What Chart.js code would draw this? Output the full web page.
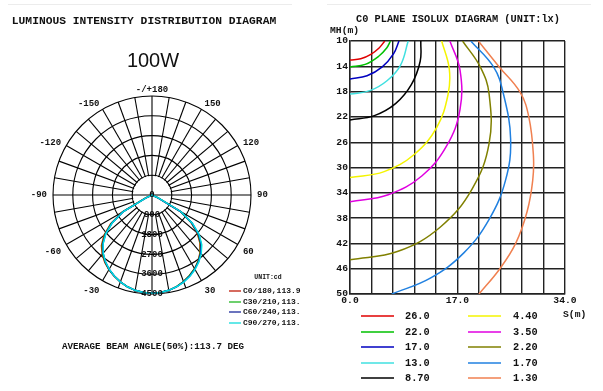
<!DOCTYPE html>
<html>
<head>
<meta charset="utf-8">
<title>100W photometric diagrams</title>
<script src="https://cdn.jsdelivr.net/npm/chart.js@4.4.1/dist/chart.umd.min.js"></script>
<style>
    html, body { margin: 0; padding: 0; background: #fff; }
    #page { position: relative; width: 603px; height: 391px; overflow: hidden; }
    #leftBox { position: absolute; left: 0; top: 0; width: 300px; height: 391px; overflow: hidden; }
    #rightBox { position: absolute; left: 320px; top: 0; width: 283px; height: 391px; }
    .t { position: absolute; white-space: nowrap; font-family: "Liberation Mono", monospace; font-weight: bold; color: #111; line-height: 1; }
    .ln { position: absolute; height: 2px; opacity: 0.75; }
    .rule { position: absolute; height: 1px; background: #ececec; }
</style>
</head>
<body>
<div id="page">
    <div class="rule" style="left:8px; top:4px; width:284px;"></div>
    <div class="rule" style="left:327px; top:4px; width:264px;"></div>
    <div id="leftBox"><canvas id="polarCanvas" width="300" height="391"></canvas></div>
    <div id="rightBox"><canvas id="isoCanvas" width="283" height="391"></canvas></div>
</div>
<script>
// ---- luminous intensity (cd) per C plane, gamma angles in degrees (negative = left half)
var gammaAngles = [-90, -85, -80, -75, -70, -65, -60, -55, -50, -45, -40, -35, -30, -25, -20, -15, -10, -5, 0,
                   5, 10, 15, 20, 25, 30, 35, 40, 45, 50, 55, 60, 65, 70, 75, 80, 85, 90];
var c0Values  = [0, 0, 0, 0, 0, 320, 1560, 2300, 2850, 3250, 3520, 3740, 3920, 4070, 4200, 4320, 4400, 4450, 4470,
                 4450, 4400, 4310, 4190, 4040, 3870, 3660, 3400, 3080, 2680, 2160, 1460, 280, 0, 0, 0, 0, 0];
var c30Values = [0, 0, 0, 0, 0, 310, 1540, 2260, 2800, 3200, 3490, 3720, 3910, 4060, 4200, 4320, 4400, 4450, 4470,
                 4450, 4400, 4310, 4190, 4040, 3870, 3670, 3420, 3120, 2720, 2190, 1480, 290, 0, 0, 0, 0, 0];
var c60Values = [0, 0, 0, 0, 0, 300, 1510, 2220, 2760, 3160, 3460, 3700, 3900, 4060, 4200, 4320, 4400, 4450, 4470,
                 4450, 4400, 4320, 4200, 4060, 3890, 3690, 3450, 3160, 2760, 2220, 1500, 300, 0, 0, 0, 0, 0];
var c90Values = [0, 0, 0, 0, 0, 300, 1500, 2200, 2740, 3140, 3450, 3690, 3890, 4060, 4200, 4320, 4400, 4450, 4470,
                 4450, 4400, 4320, 4210, 4080, 3910, 3710, 3480, 3200, 2800, 2250, 1520, 310, 0, 0, 0, 0, 0];
var planeNames = ['C0/180,113.9', 'C30/210,113.5', 'C60/240,113.5', 'C90/270,113.8'];
var planeColors = ['#e02400', '#00b400', '#0000c8', '#00e0e0'];
var planeLegendColors = ['#c83a2a', '#3cc03c', '#3a46a8', '#30e0e0'];
var ringTicks = [900, 1800, 2700, 3600, 4500];
var angleTicks = [180, 150, 120, 90, 60, 30, -30, -60, -90, -120, -150];

// ---- isolux curves, C0 plane: [S (m), MH (m)]
var isoLevels = ['26.0', '22.0', '17.0', '13.0', '8.70', '4.40', '3.50', '2.20', '1.70', '1.30'];
var isoColors = ['#e00000', '#00c000', '#0000c0', '#40e0e0', '#000000', '#f4f400', '#e000e0', '#808000', '#2080e0', '#f08050'];
var lux260 = [[0, 13.0], [1.7, 12.8], [3.3, 12.1], [4.6, 11.1], [5.5, 10.0]];
var lux220 = [[0, 14.1], [2.4, 13.7], [4.5, 12.45], [5.8, 11.1], [6.4, 10.0]];
var lux170 = [[0, 16.0], [2.7, 15.5], [5.1, 14.1], [6.9, 12.0], [7.75, 10.0]];
var lux130 = [[0, 18.4], [3.15, 17.85], [5.9, 16.25], [8.0, 13.8], [9.2, 10.0]];
var lux087 = [[0, 22.5], [3.85, 21.8], [7.2, 19.9], [9.7, 16.9], [11.1, 13.2], [11.2, 10.0]];
var lux044 = [[0, 31.6], [5.4, 30.65], [10.2, 27.9], [13.7, 23.7], [15.5, 18.5], [15.7, 14.4], [14.5, 10.0]];
var lux035 = [[0, 35.4], [6.05, 34.3], [11.4, 31.3], [15.3, 26.55], [17.4, 20.8], [17.4, 14.6], [15.8, 10.0]];
var lux022 = [[0, 44.6], [7.6, 43.25], [14.3, 39.4], [19.3, 33.4], [22.0, 26.2], [22.0, 18.4], [20.6, 14.1], [17.8, 10.0]];
var lux017 = [[6.6, 50], [12.7, 47.5], [18.0, 43.5], [22.0, 38.2], [24.6, 32.0], [25.4, 25.5], [24.2, 18.1], [22.7, 14.1], [19.1, 10.0]];
var lux013 = [[20.4, 50], [23.7, 46], [26.2, 42], [28.0, 37], [28.9, 32], [29.0, 28], [28.3, 22.1], [26.9, 18.1], [23.6, 14.1], [20.3, 10.0]];
var isoCurves = [lux260, lux220, lux170, lux130, lux087, lux044, lux035, lux022, lux017, lux013];
var sTicks = [0, 3.4, 6.8, 10.2, 13.6, 17, 20.4, 23.8, 27.2, 30.6, 34];
var sLabelled = [0, 17, 34];
var mhTicks = [10, 14, 18, 22, 26, 30, 34, 38, 42, 46, 50];

var MONO = '"Liberation Mono", "DejaVu Sans Mono", monospace';
var page = document.getElementById('page');

function addText(txt, x, y, size, align, opts) {
    var d = document.createElement('div');
    d.className = 't';
    d.textContent = txt;
    d.style.left = x + 'px';
    d.style.top = y + 'px';
    d.style.fontSize = size + 'px';
    var tx = align === 'center' ? '-50%' : (align === 'right' ? '-100%' : '0');
    d.style.transform = 'translate(' + tx + ', -50%)';
    if (opts) {
        for (var k in opts) {
            if (k !== 'parent') d.style[k] = opts[k];
        }
    }
    (opts && opts.parent ? opts.parent : page).appendChild(d);
    return d;
}

function addLine(x1, x2, y, color, parent) {
    var l = document.createElement('div');
    l.className = 'ln';
    l.style.left = x1 + 'px';
    l.style.width = (x2 - x1) + 'px';
    l.style.top = (y - 1) + 'px';
    l.style.background = color;
    (parent || page).appendChild(l);
}

// ---------------- left: polar intensity diagram ----------------
// radar index i sits at gamma = -5*i (index 0 at the bottom, clockwise)
var polarLabels = [];
for (var i = 0; i < 72; i++) {
    var g = -5 * i;
    if (g <= -180) g += 360;
    polarLabels.push(g);
}

function planeData(values) {
    return polarLabels.map(function(g) {
        var k = gammaAngles.indexOf(g);
        return k >= 0 ? values[k] : 0;
    });
}

var planeSeries = [c0Values, c30Values, c60Values, c90Values];

var polarDecor = {
    id: 'polarDecor',
    beforeDatasetsDraw: function(chart) {
        var r = chart.scales.r;
        var ctx = chart.ctx;
        var inner = r.getDistanceFromCenterForValue(ringTicks[0]);
        ctx.save();
        // spokes start at the first ring; only the cross runs through the middle
        ctx.fillStyle = '#fff';
        ctx.beginPath();
        ctx.arc(r.xCenter, r.yCenter, inner - 0.7, 0, Math.PI * 2);
        ctx.fill();
        ctx.strokeStyle = '#000';
        ctx.lineWidth = 1.1;
        ctx.beginPath();
        ctx.moveTo(r.xCenter - inner, r.yCenter);
        ctx.lineTo(r.xCenter + inner, r.yCenter);
        ctx.moveTo(r.xCenter, r.yCenter - inner);
        ctx.lineTo(r.xCenter, r.yCenter + inner);
        ctx.stroke();
        ctx.restore();
    },
    afterDraw: function(chart) {
        var r = chart.scales.r;
        var ctx = chart.ctx;
        ctx.save();
        ctx.fillStyle = '#111';
        ctx.font = 'bold 9px ' + MONO;
        ctx.textAlign = 'center';
        ctx.textBaseline = 'middle';
        ctx.fillText('0', r.xCenter, r.yCenter);
        ringTicks.forEach(function(v) {
            ctx.fillText(String(v), r.xCenter, r.yCenter + r.getDistanceFromCenterForValue(v));
        });
        angleTicks.forEach(function(g) {
            var idx = ((-g / 5) % 72 + 72) % 72;
            var p = r.getPointPosition(idx, r.drawingArea + 6);
            var dx = p.x - r.xCenter;
            ctx.textAlign = Math.abs(dx) < 2 ? 'center' : (dx < 0 ? 'right' : 'left');
            ctx.textBaseline = Math.abs(g) < 90 ? 'top' : 'middle';
            ctx.fillText(g === 180 ? '-/+180' : String(g), p.x, p.y);
        });
        ctx.restore();
    }
};

new Chart(document.getElementById('polarCanvas'), {
    type: 'radar',
    data: {
        labels: polarLabels,
        datasets: planeSeries.map(function(vals, k) {
            return {
                label: planeNames[k],
                data: planeData(vals),
                borderColor: planeColors[k],
                borderWidth: 1.5,
                backgroundColor: 'rgba(0,0,0,0)',
                fill: false,
                pointRadius: 0,
                tension: 0,
                order: planeSeries.length - k   // C90 ends up on top
            };
        })
    },
    options: {
        responsive: false,
        animation: false,
        layout: { padding: { left: 53, right: 49, top: 96, bottom: 97 } },
        plugins: { legend: { display: false }, tooltip: { enabled: false } },
        scales: {
            r: {
                min: 0,
                max: 4500,
                startAngle: 180,
                ticks: { display: false, stepSize: 900 },
                grid: { circular: true, color: '#000', lineWidth: 1.1 },
                angleLines: {
                    color: '#000',
                    lineWidth: function(c) { return c.index % 2 === 0 ? 1.1 : 0; }
                },
                pointLabels: { display: false }
            }
        }
    },
    plugins: [polarDecor]
});

// ---------------- right: isolux diagram ----------------
new Chart(document.getElementById('isoCanvas'), {
    type: 'scatter',
    data: {
        datasets: isoCurves.map(function(pts, k) {
            return {
                label: isoLevels[k],
                data: pts.map(function(p) { return { x: p[0], y: p[1] }; }),
                showLine: true,
                borderColor: isoColors[k],
                borderWidth: 1.5,
                pointRadius: 0,
                tension: 0.4,
                fill: false
            };
        })
    },
    options: {
        responsive: false,
        animation: false,
        layout: { padding: { left: 0, top: 41, right: 38, bottom: 0 } },
        plugins: { legend: { display: false }, tooltip: { enabled: false } },
        scales: {
            x: {
                type: 'linear',
                min: 0,
                max: 34,
                afterBuildTicks: function(scale) {
                    scale.ticks = sTicks.map(function(v) { return { value: v }; });
                },
                afterFit: function(scale) { scale.height = 97; },
                grid: { color: '#222', lineWidth: 1.4, drawTicks: false },
                border: { color: '#222', width: 1.4 },
                ticks: {
                    autoSkip: false,
                    maxRotation: 0,
                    padding: 1,
                    color: '#111',
                    font: { family: MONO, size: 9.7, weight: 'bold' },
                    callback: function(v) { return sLabelled.indexOf(v) >= 0 ? v.toFixed(1) : ''; }
                }
            },
            y: {
                type: 'linear',
                min: 10,
                max: 50,
                reverse: true,
                afterBuildTicks: function(scale) {
                    scale.ticks = mhTicks.map(function(v) { return { value: v }; });
                },
                afterFit: function(scale) { scale.width = 30; },
                grid: { color: '#222', lineWidth: 1.4, drawTicks: false },
                border: { color: '#222', width: 1.4 },
                ticks: {
                    autoSkip: false,
                    padding: 2,
                    color: '#111',
                    font: { family: MONO, size: 9.7, weight: 'bold' }
                }
            }
        }
    }
});

// ---------------- texts and legends ----------------
var leftBox = document.getElementById('leftBox');
addText('LUMINOUS INTENSITY DISTRIBUTION DIAGRAM', 144, 22, 11.3, 'center');
addText('100W', 153, 60, 20, 'center', { fontFamily: '"Liberation Sans", Arial, sans-serif', fontWeight: 'normal' });
addText('UNIT:cd', 268, 278, 6.5, 'center', { parent: leftBox });
var leftRows = [291, 301.5, 312, 322.5];
planeNames.forEach(function(name, k) {
    addLine(229, 241, leftRows[k], planeLegendColors[k], leftBox);
    addText(name, 243, leftRows[k], 8, 'left', { parent: leftBox });
});
addText('AVERAGE BEAM ANGLE(50%):113.7 DEG', 153, 347, 9.2, 'center');

addText('C0 PLANE ISOLUX DIAGRAM (UNIT:lx)', 458, 19, 10.3, 'center');
addText('MH(m)', 330, 31, 9.7, 'left');
addText('S(m)', 563, 315, 9.7, 'left');
var isoRows = [316, 331.5, 347, 362.5, 378];
isoLevels.forEach(function(lv, k) {
    var col = k < 5 ? 0 : 1;
    var row = k % 5;
    var x1 = col === 0 ? 361 : 468;
    var tx = col === 0 ? 405 : 513;
    addLine(x1, x1 + 33, isoRows[row], isoColors[k], null);
    addText(lv, tx, isoRows[row], 10.3, 'left');
});
</script>
</body>
</html>
